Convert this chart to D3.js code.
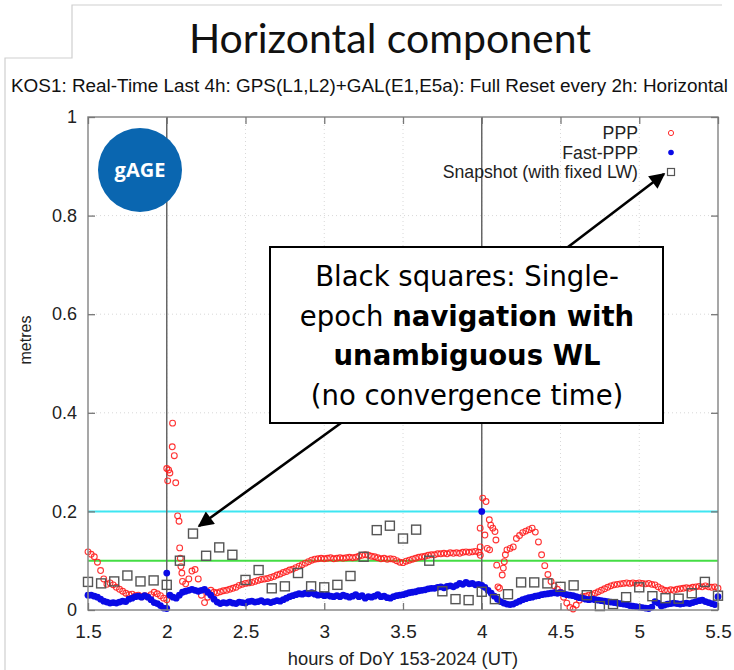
<!DOCTYPE html>
<html>
<head>
<meta charset="utf-8">
<script src="https://cdn.jsdelivr.net/npm/d3@7"></script>
<style>
body{margin:0;background:#fff}
svg{display:block}
</style>
</head>
<body>
<div id="chart"></div>
<script>

// epochs: regular grid of hours
var hourStart = 1.5, hourStep = 0.02;

// PPP horizontal error (m), null where the reset transient is listed apart
var pppValues = [
	.118,.113,.108,.097,.080,.063,.052,.055,.051,.046,
	.042,.038,.034,.031,.032,.029,.030,.027,.029,.027,
	.031,.036,.033,.029,.024,.021,
	null,null,null,null,
	.058,.053,.063,.079,.082,.063,.030,.015,.026,.040,
	.036,.035,.037,.039,.040,.042,.044,.046,.050,.052,
	.054,.055,.056,.058,.060,.062,.063,.064,.066,.068,
	.071,.073,.076,.078,.081,.083,.086,.089,.092,.095,
	.098,.101,.103,.104,.105,.104,.105,.106,.104,.105,
	.106,.105,.106,.107,.106,.107,.109,.111,.112,.111,
	.109,.108,.106,.104,.105,.103,.104,.103,.100,.097,
	.096,.099,.101,.103,.105,.107,.108,.109,.111,.112,
	.112,.114,.114,.115,.114,.116,.115,.116,.115,.117,
	.118,.117,.118,.119,.117,
	null,null,null,null,null,null,null,null,
	.122,.125,.128,.145,.151,.157,.160,
	.163,.166,.158,.138,.112,.090,.072,.058,.049,.042,
	.036,.026,.014,.005,.002,.010,.020,.027,.028,.030,
	.031,.034,.037,.040,.043,.046,.049,.051,.052,.053,
	.054,.055,.054,.055,.054,.055,.054,.053,.054,.052,
	.051,.047,.043,.040,.039,.041,.040,.042,.043,.044,
	.045,.044,.046,.047,.048,.047,.049,.047,.046,.047,.044
];

// PPP points just after each full reset [hour, metres]
var pppAfterReset = [
	[2.000,.287],[2.006,.262],[2.012,.284],[2.020,.278],[2.035,.331],[2.037,.379],
	[2.048,.313],[2.057,.258],[2.069,.191],[2.078,.180],[2.082,.126],[2.086,.105],
	[2.090,.088],[2.096,.075],
	[3.990,.166],[3.990,.128],[3.991,.111],[4.006,.227],[4.020,.152],[4.027,.220],
	[4.035,.125],[4.048,.183],[4.050,.122],[4.057,.172],[4.070,.166],[4.084,.159],
	[4.090,.142],[4.095,.091],[4.103,.047],[4.113,.044],[4.130,.071],[4.137,.085],
	[4.143,.098],[4.150,.112]
];

// Fast-PPP horizontal error (m)
var fastValues = [
	.030,.030,.028,.026,.022,.018,.016,.014,.015,.014,
	.016,.018,.017,.022,.024,.027,.028,.026,.029,.026,
	.021,.015,.013,.009,.004,.003,
	.030,.026,.024,.030,
	.036,.038,.040,.042,.040,.038,.040,.042,.036,.030,
	.022,.016,.013,.015,.014,.016,.014,.013,.016,.015,
	.014,.017,.018,.016,.017,.019,.016,.017,.015,.017,
	.019,.018,.021,.024,.027,.029,.031,.033,.032,.034,
	.033,.035,.032,.030,.031,.029,.030,.028,.027,.029,
	.027,.030,.028,.026,.028,.031,.027,.029,.024,.027,
	.026,.028,.031,.027,.028,.025,.024,.027,.029,.030,
	.031,.033,.035,.036,.037,.039,.040,.041,.043,.044,
	.044,.046,.047,.045,.048,.049,.047,.050,.054,.052,
	.056,.053,.054,.051,.052,.050,.046,.040,.034,.028,
	.022,.017,.014,.012,.011,.012,.015,.018,.021,.023,
	.025,.026,.028,.029,.031,.032,.033,.034,.035,.034,
	.035,.033,.031,.030,.029,.027,.025,.024,.022,.021,
	.022,.021,.020,.019,.018,.017,.016,.015,.014,.013,
	.012,.011,.009,.008,.007,.006,.005,.004,.003,.006,
	.017,.014,.008,.010,.012,.013,.014,.013,.012,.013,
	.014,.013,.015,.017,.019,.020,.017,.015,.013,.011,.027
];
var fastOutliers = [[2.0,.075],[4.0,.200]];

// Snapshot (fixed LW), one every 5 minutes
var snapStart = 1.5, snapStep = 1/12;
var snapValues = [
	.057,.054,.058,.070,.058,.060,.051,.100,.155,.110,
	.127,.112,.061,.081,.044,.048,.075,.048,.046,.051,
	.069,.108,.162,.171,.145,.163,.100,.038,.022,.020,
	.037,.022,.032,.056,.056,.054,.047,.050,.030,.008,
	.012,.026,.046,.028,.024,.023,.034,.057,.029
];

var xTicks = [1.5,2,2.5,3,3.5,4,4.5,5,5.5];
var yTicks = [0,0.2,0.4,0.6,0.8,1];
var resetHours = [2,4];
var levelLines = [0.2,0.1];
var legendNames = ["PPP","Fast-PPP","Snapshot (with fixed LW)"];
var noteLines = [
	[["Black squares: Single-",false]],
	[["epoch ",false],["navigation with",true]],
	[["unambiguous WL",true]],
	[["(no convergence time)",false]]
];

var W = 734, H = 670;
var levelColors = ["#3ee6f2","#44dd44"];
var font = "'Liberation Sans', Arial, sans-serif";

var svg = d3.select("#chart").append("svg")
	.attr("width", W).attr("height", H);

var x = d3.scaleLinear().domain([1.5,5.5]).range([88,718]);
var y = d3.scaleLinear().domain([0,1]).range([610,117]);

/*
 *	PAGE FRAME + TITLES
 */
var edge = "#cfcfcf";
svg.append("path")
	.attr("d", "M5,670 V58 H72 V5 H722")
	.attr("fill", "none").attr("stroke", edge).attr("stroke-width", 1.2);

svg.append("text")
	.text("Horizontal component")
	.attr("x", 390).attr("y", 53)
	.attr("text-anchor", "middle")
	.style("font-family", "Lato, 'Open Sans', sans-serif")
	.style("font-size", "41px")
	.style("fill", "#111");

svg.append("text")
	.text("KOS1: Real-Time Last 4h: GPS(L1,L2)+GAL(E1,E5a): Full Reset every 2h: Horizontal")
	.attr("x", 11).attr("y", 92)
	.style("font-family", font)
	.style("font-size", "18.9px")
	.style("fill", "#111");

/*
 *	GRID, LEVELS, RESETS
 */
var g = svg.append("g");

g.selectAll("line.vgrid").data(xTicks.slice(1,-1)).enter().append("line")
	.attr("class","vgrid")
	.attr("x1", function(d){ return x(d) }).attr("x2", function(d){ return x(d) })
	.attr("y1", y(1)).attr("y2", y(0))
	.attr("stroke", "#d8d8d8").attr("stroke-dasharray", "1,3");

g.selectAll("line.hgrid").data(yTicks.slice(1,-1)).enter().append("line")
	.attr("class","hgrid")
	.attr("x1", x(1.5)).attr("x2", x(5.5))
	.attr("y1", function(d){ return y(d) }).attr("y2", function(d){ return y(d) })
	.attr("stroke", "#d8d8d8").attr("stroke-dasharray", "1,3");

g.selectAll("line.level").data(levelLines).enter().append("line")
	.attr("class","level")
	.attr("x1", x(1.5)).attr("x2", x(5.5))
	.attr("y1", function(d){ return y(d) }).attr("y2", function(d){ return y(d) })
	.attr("stroke", function(d,i){ return levelColors[i] })
	.attr("stroke-width", 2);

g.selectAll("line.reset").data(resetHours).enter().append("line")
	.attr("class","reset")
	.attr("x1", function(d){ return x(d) }).attr("x2", function(d){ return x(d) })
	.attr("y1", y(1)).attr("y2", y(0))
	.attr("stroke", "#666").attr("stroke-width", 1.5);

/*
 *	DATA
 */
var ppp = [];
pppValues.forEach(function(v,i){ if (v !== null) ppp.push([hourStart + i*hourStep, v]); });
ppp = ppp.concat(pppAfterReset);

var fast = fastValues.map(function(v,i){ return [hourStart + i*hourStep, v] }).concat(fastOutliers);
var snap = snapValues.map(function(v,i){ return [snapStart + i*snapStep, v] });

g.selectAll("circle.ppp").data(ppp).enter().append("circle")
	.attr("class","ppp")
	.attr("cx", function(d){ return x(d[0]) })
	.attr("cy", function(d){ return y(d[1]) })
	.attr("r", 2.9)
	.attr("fill", "none")
	.attr("stroke", "#ff1e1e").attr("stroke-width", 1.1)
	.attr("stroke-opacity", 0.9);

g.selectAll("circle.fast").data(fast).enter().append("circle")
	.attr("class","fast")
	.attr("cx", function(d){ return x(d[0]) })
	.attr("cy", function(d){ return y(d[1]) })
	.attr("r", 3.4)
	.attr("fill", "#0a0ae6");

var sq = 9;
g.selectAll("rect.snap").data(snap).enter().append("rect")
	.attr("class","snap")
	.attr("x", function(d){ return x(d[0]) - sq/2 })
	.attr("y", function(d){ return y(d[1]) - sq/2 })
	.attr("width", sq).attr("height", sq)
	.attr("fill", "none")
	.attr("stroke", "#555").attr("stroke-width", 1.4);

/*
 *	AXES
 */
svg.append("rect")
	.attr("x", x(1.5)).attr("y", y(1))
	.attr("width", x(5.5)-x(1.5)).attr("height", y(0)-y(1))
	.attr("fill", "none").attr("stroke", "#8a8a8a").attr("stroke-width", 1.5);

var axes = [
	{axis: d3.axisBottom(x), at: "translate(0,"+ y(0) +")", ticks: xTicks},
	{axis: d3.axisTop(x), at: "translate(0,"+ y(1) +")", ticks: xTicks},
	{axis: d3.axisLeft(y), at: "translate("+ x(1.5) +",0)", ticks: yTicks},
	{axis: d3.axisRight(y), at: "translate("+ x(5.5) +",0)", ticks: yTicks}
];
axes.forEach(function(a,k){
	var ax = svg.append("g").attr("transform", a.at)
		.call(a.axis.tickValues(a.ticks).tickSizeInner(-7).tickSizeOuter(0).tickFormat(""));
	ax.select(".domain").remove();
	ax.selectAll("line").attr("stroke", "#777").attr("stroke-width", 1.3);
});

var xLab = svg.append("g").attr("transform", "translate(0,"+ y(0) +")")
	.call(d3.axisBottom(x).tickValues(xTicks).tickSize(0).tickPadding(15).tickFormat(d3.format("")));
xLab.select(".domain").remove();
xLab.selectAll("text").style("font-family", font).style("font-size", "19px").style("fill", "#222");

var yLab = svg.append("g").attr("transform", "translate("+ x(1.5) +",0)")
	.call(d3.axisLeft(y).tickValues(yTicks).tickSize(0).tickPadding(11).tickFormat(d3.format("")));
yLab.select(".domain").remove();
yLab.selectAll("text").style("font-family", font).style("font-size", "18px").style("fill", "#222");

svg.append("text")
	.text("hours of DoY 153-2024 (UT)")
	.attr("x", 403).attr("y", 665)
	.attr("text-anchor", "middle")
	.style("font-family", font).style("font-size", "18.3px").style("fill", "#222");

svg.append("text")
	.text("metres")
	.attr("transform", "translate(31,340) rotate(-90)")
	.attr("text-anchor", "middle")
	.style("font-family", font).style("font-size", "16px").style("fill", "#222");

/*
 *	LEGEND
 */
var leg = svg.append("g");
legendNames.forEach(function(name,i){
	var ly = 133 + i*19.5;
	leg.append("text").text(name)
		.attr("x", 638).attr("y", ly + 6)
		.attr("text-anchor", "end")
		.style("font-family", font).style("font-size", "17.7px").style("fill", "#222");
	if (i === 0) leg.append("circle").attr("cx", 671).attr("cy", ly).attr("r", 2.6)
		.attr("fill", "none").attr("stroke", "#ff2a2a");
	if (i === 1) leg.append("circle").attr("cx", 671).attr("cy", ly).attr("r", 2.8)
		.attr("fill", "#0a0ae6");
	if (i === 2) leg.append("rect").attr("x", 671 - 3.5).attr("y", ly - 3.5)
		.attr("width", 7).attr("height", 7)
		.attr("fill", "none").attr("stroke", "#555").attr("stroke-width", 1.2);
});

/*
 *	LOGO
 */
svg.append("circle").attr("cx", 140).attr("cy", 170).attr("r", 42).attr("fill", "#0a66b0");
svg.append("text").text("gAGE")
	.attr("x", 140).attr("y", 177)
	.attr("text-anchor", "middle")
	.style("font-family", "'Open Sans', 'Noto Sans', sans-serif")
	.style("font-weight", "bold").style("font-size", "20px").style("fill", "#fff");

/*
 *	NOTE BOX + ARROWS
 */
svg.append("defs").append("marker")
	.attr("id", "head").attr("viewBox", "0 0 10 10")
	.attr("refX", 9).attr("refY", 5)
	.attr("markerWidth", 7).attr("markerHeight", 6)
	.attr("markerUnits", "strokeWidth")
	.attr("orient", "auto")
	.append("path").attr("d", "M0,0 L10,5 L0,10 z").attr("fill", "#000");

[[568,247,664,174],[341,423,199,526]].forEach(function(a){
	svg.append("line")
		.attr("x1", a[0]).attr("y1", a[1]).attr("x2", a[2]).attr("y2", a[3])
		.attr("stroke", "#000").attr("stroke-width", 2.6)
		.attr("marker-end", "url(#head)");
});

svg.append("rect")
	.attr("x", 270).attr("y", 247).attr("width", 393).attr("height", 176)
	.attr("fill", "#fff").attr("stroke", "#000").attr("stroke-width", 2);

var note = svg.append("text")
	.attr("text-anchor", "middle")
	.style("font-family", "'DejaVu Sans', sans-serif")
	.style("font-size", "27.5px").style("fill", "#000");
noteLines.forEach(function(parts,i){
	var line = note.append("tspan").attr("x", 467).attr("y", 286 + i*39.5);
	parts.forEach(function(p){
		line.append("tspan").text(p[0]).style("font-weight", p[1] ? "bold" : "normal");
	});
});

</script>
</body>
</html>
